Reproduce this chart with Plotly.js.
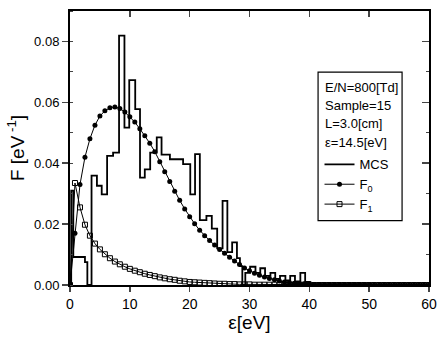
<!DOCTYPE html>
<html>
<head>
<meta charset="utf-8">
<script src="https://cdn.plot.ly/plotly-3.0.1.min.js"></script>
<style>html,body{margin:0;padding:0;background:#fff;}#chart{width:437px;height:341px;}</style>
</head>
<body>
<div id="chart"></div>
<script>
// Energy grid of the F0 / F1 curves [eV]
const eps = [0,0.83,1.67,2.5,3.33,4.17,5,5.83,6.67,7.5,8.33,9.17,10,10.83,11.67,12.5,13.33,14.17,15,15.83,16.67,17.5,18.33,19.17,20,20.83,21.67,22.5,23.33,24.17,25,25.83,26.67,27.5,28.33,29.17,30,30.83,31.67,32.5,33.33,34.17,35,35.83,36.67,37.5,38.33,39.17,40,40.83,41.67,42.5,43.33,44.17,45,45.83,46.67,47.5,48.33,49.17,50,50.83,51.67,52.5,53.33,54.17,55,55.83,56.67,57.5,58.33,59.17,60];
// F0 (filled circles)
const f0 = [0,0.017,0.033,0.042,0.048,0.0525,0.0555,0.0572,0.0582,0.0585,0.0580,0.0568,0.0553,0.0535,0.0513,0.0490,0.0466,0.0438,0.0405,0.0372,0.0340,0.0308,0.0278,0.0250,0.0224,0.0201,0.0180,0.0162,0.0146,0.0131,0.0117,0.0104,0.0091,0.0079,0.0067,0.0056,0.0047,0.0039,0.0032,0.0026,0.0021,0.0017,0.0013,0.0010,0.0008,0.0006,0.0005,0.0004,0.0003,0.0002,0.0002,0.0001,0.0001,0.0001,0.0001,0.0001,0.0001,0.0001,0.0001,0.0001,0.0001,0,0,0,0,0,0,0,0,0,0,0,0];
// F1 (open squares)
const f1 = [0,0.0335,0.0255,0.0198,0.0162,0.0136,0.0117,0.0101,0.0088,0.0077,0.0068,0.0060,0.0053,0.0047,0.0042,0.0037,0.0033,0.0029,0.0025,0.0022,0.0019,0.0017,0.0014,0.0012,0.0010,0.0009,0.0008,0.0007,0.0006,0.0005,0.0004,0.0004,0.0003,0.0003,0.0002,0.0002,0.0002,0.0001,0.0001,0.0001,0.0001,0.0001,0.0001,0.0001,0.0001,0.0001,0.0001,0.0001,0.0001,0,0,0,0,0,0,0,0,0,0,0,0,0,0,0,0,0,0,0,0,0,0,0,0];
// MCS histogram: left bin edges [eV] and heights
const mcsE = [0,0.2,0.55,2.5,2.9,3.6,4.5,5.3,6.2,7.2,8.2,9.1,9.9,10.9,11.7,12.5,13.4,14.5,15.3,16.7,18.9,20.1,20.9,21.7,22.8,23.7,24.6,25.5,26.3,27.1,27.9,28.4,28.8,29.3,30.1,31.0,31.8,32.6,33.5,34.3,35.1,36.0,36.8,37.6,38.5,39.3,40.1,60];
const mcsF = [0,0.031,0.0092,0.0075,0,0.0359,0.0326,0.0298,0.0424,0.0435,0.0819,0.0517,0.0673,0.0578,0.0353,0.038,0.0435,0.0485,0.0428,0.0413,0.0397,0.0298,0.043,0.0213,0.0227,0.0185,0.012,0.0276,0.0108,0.014,0.0088,0.0062,0,0.004,0.006,0.004,0.0055,0.003,0.004,0.002,0.003,0.0015,0.003,0.0012,0.004,0.001,0,0];
// Labels
const infoLines = ["E/N=800[Td]","Sample=15","L=3.0[cm]","ε=14.5[eV]"];
const seriesNames = ["MCS","F<sub>0</sub>","F<sub>1</sub>"];
const xTicks = [0,10,20,30,40,50,60];
const yTicks = [0,0.02,0.04,0.06,0.08];
const yTickText = ["0.00","0.02","0.04","0.06","0.08"];

const FONT = "Liberation Sans, Arial, sans-serif";
const traces = [
  {x: mcsE, y: mcsF, mode: "lines", line: {shape: "hv", color: "#000", width: 1.8}, name: seriesNames[0]},
  {x: eps, y: f0, mode: "lines+markers", line: {color: "#000", width: 1}, marker: {symbol: "circle", size: 5, color: "#000"}, name: seriesNames[1]},
  {x: eps, y: f1, mode: "lines+markers", line: {color: "#000", width: 1}, marker: {symbol: "square-open", size: 5, color: "#000", line: {width: 1}}, name: seriesNames[2]},
  {x: [0], y: [0], xaxis: "x2", yaxis: "y2", mode: "markers", marker: {opacity: 0}, showlegend: false, hoverinfo: "skip"}
];

const ann = infoLines.map((t, i) => ({
  text: t, xref: "paper", yref: "paper", x: 0.705, y: [0.722, 0.655, 0.588, 0.52][i],
  xanchor: "left", yanchor: "middle", showarrow: false, font: {family: FONT, size: 13, color: "#000"}
}));

const layout = {
  width: 437, height: 341,
  margin: {l: 70, r: 8, t: 11, b: 56},
  paper_bgcolor: "#fff", plot_bgcolor: "#fff",
  font: {family: FONT, color: "#000"},
  showlegend: true,
  legend: {x: 0.695, y: 0.495, xanchor: "left", yanchor: "top", bgcolor: "rgba(0,0,0,0)", borderwidth: 0,
           font: {family: FONT, size: 13, color: "#000"}, tracegroupgap: 0, itemwidth: 30},
  xaxis: {range: [0, 60], tickvals: xTicks, ticks: "outside", ticklen: 5, tickwidth: 1.5,
          showline: true, linewidth: 2, linecolor: "#000", mirror: true, showgrid: false, zeroline: false,
          tickfont: {family: FONT, size: 14, color: "#000"},
          title: {text: "ε[eV]", font: {family: FONT, size: 19, color: "#000"}, standoff: 4}},
  yaxis: {range: [0, 0.09], tickvals: yTicks, ticktext: yTickText, ticks: "outside", ticklen: 6, tickwidth: 1.5,
          minor: {dtick: 0.01, tick0: 0, ticks: "inside", ticklen: 3, tickwidth: 1},
          showline: true, linewidth: 2, linecolor: "#000", mirror: true, showgrid: false, zeroline: false,
          tickfont: {family: FONT, size: 13, color: "#000"},
          title: {text: "F [eV<sup> -1</sup>]", font: {family: FONT, size: 19, color: "#000"}, standoff: 4}},
  xaxis2: {overlaying: "x", side: "top", range: [0, 60], tickvals: xTicks, ticks: "inside", ticklen: 6, tickwidth: 1.5,
           showticklabels: false, showgrid: false, zeroline: false, showline: false},
  yaxis2: {overlaying: "y", side: "right", range: [0, 0.09], tickvals: yTicks, ticks: "inside", ticklen: 7, tickwidth: 1.5,
           minor: {dtick: 0.01, tick0: 0, ticks: "inside", ticklen: 3, tickwidth: 1},
           showticklabels: false, showgrid: false, zeroline: false, showline: false},
  shapes: [{type: "rect", xref: "paper", yref: "paper", x0: 0.691, x1: 0.925, y0: 0.235, y1: 0.777,
            line: {color: "#000", width: 1.2}, fillcolor: "rgba(0,0,0,0)"}],
  annotations: ann
};

Plotly.newPlot("chart", traces, layout, {displayModeBar: false, staticPlot: true});
</script>
</body>
</html>
